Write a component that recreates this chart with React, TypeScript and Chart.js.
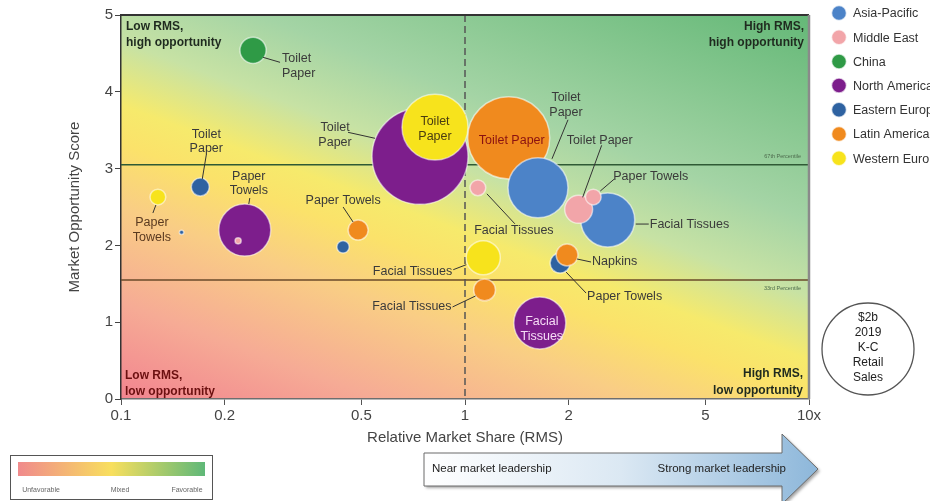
import React, { useEffect, useRef } from 'react';
import { Chart, registerables } from 'chart.js';

Chart.register(...registerables);

const FONT = '"Liberation Sans", Arial, Helvetica, sans-serif';

// Regions in legend order, with their colours
const regions = ['Asia-Pacific', 'Middle East', 'China', 'North America', 'Eastern Europe', 'Latin America', 'Western Europe'];
const regionColors = ['#4c83c8', '#f2a5a9', '#2f9a46', '#7d1e8c', '#2e62a1', '#f08a1e', '#f7e31c'];
// stacking of the region layers (lower = drawn on top)
const regionStack = [2, 1, 6, 7, 5, 3, 4];

// One bubble per region / category market
const bubbleRegion = [
  'China', 'North America', 'Western Europe', 'Latin America', 'Asia-Pacific', 'Asia-Pacific', 'Middle East',
  'Middle East', 'Middle East', 'Western Europe', 'Latin America', 'Latin America', 'Eastern Europe', 'North America',
  'Eastern Europe', 'Western Europe', 'Eastern Europe', 'North America', 'Middle East', 'Latin America', 'Eastern Europe',
];
const bubbleCategory = [
  'Toilet Paper', 'Toilet Paper', 'Toilet Paper', 'Toilet Paper', 'Toilet Paper', 'Facial Tissues', 'Toilet Paper',
  'Paper Towels', 'Facial Tissues', 'Facial Tissues', 'Facial Tissues', 'Napkins', 'Paper Towels', 'Facial Tissues',
  'Toilet Paper', 'Paper Towels', 'Paper Towels', 'Paper Towels', 'Paper Towels', 'Paper Towels', 'Facial Tissues',
];
// relative market share (x, log)
const bubbleRMS = [0.242, 0.74, 0.818, 1.34, 1.63, 2.6, 2.14, 2.36, 1.09, 1.13, 1.14, 1.98, 1.89, 1.65, 0.17, 0.128, 0.15, 0.229, 0.219, 0.489, 0.442];
// market opportunity score (y)
const bubbleScore = [4.54, 3.16, 3.54, 3.4, 2.75, 2.33, 2.47, 2.63, 2.75, 1.84, 1.42, 1.875, 1.77, 0.99, 2.76, 2.63, 2.17, 2.2, 2.06, 2.2, 1.98];
// 2019 retail sales, $M (bubble area)
const bubbleSalesM = [36, 485, 229, 354, 189, 153, 41, 13, 13, 61, 25, 25, 21, 142, 17, 13, 1, 142, 2, 21, 8];

const xTicks = [0.1, 0.2, 0.5, 1, 2, 5, 10];
const xTickLabels = ['0.1', '0.2', '0.5', '1', '2', '5', '10x'];

const percentileHigh = 3.05;
const percentileLow = 1.55;
const leadershipRMS = 1;
const totalNote = ['$2b', '2019', 'K-C', 'Retail', 'Sales'];
const scaleNames = ['Unfavorable', 'Mixed', 'Favorable'];
const arrowTexts = ['Near market leadership', 'Strong market leadership'];

const radiusOf = (sales: number) => 2.18 * Math.sqrt(sales);

// Callout placement for each labelled bubble (pixel offsets from the bubble centre)
type Callout = { i: number; dx: number; dy: number; wrap?: boolean; align?: CanvasTextAlign; color?: string; lh?: number; leader?: number[] };
const callouts: Callout[] = [
  { i: 0, dx: 29, dy: 8, wrap: true, align: 'left', leader: [10, 7, 27, 12] },
  { i: 1, dx: -85, dy: -29, wrap: true, leader: [-72, -24, -45, -18] },
  { i: 2, dx: 0, dy: -6, wrap: true, color: '#4a3c10' },
  { i: 3, dx: 3, dy: 3, color: '#8a1111' },
  { i: 4, dx: 28, dy: -90, wrap: true, leader: [30, -68, 14, -29] },
  { i: 5, dx: 42, dy: 4, align: 'left', leader: [28, 4, 41, 4] },
  { i: 6, dx: 21, dy: -69, leader: [23, -64, 4, -12] },
  { i: 7, dx: 20, dy: -20, align: 'left', leader: [21, -18, 7, -6] },
  { i: 8, dx: 36, dy: 43, leader: [9, 6, 37, 36] },
  { i: 9, dx: -31, dy: 14, align: 'right', leader: [-30, 12, -17, 7] },
  { i: 10, dx: -33, dy: 17, align: 'right', leader: [-32, 17, -9, 6] },
  { i: 11, dx: 25, dy: 7, align: 'left', leader: [10, 4, 24, 7] },
  { i: 12, dx: 27, dy: 33, align: 'left', leader: [6, 9, 26, 30] },
  { i: 13, dx: 2, dy: -1, wrap: true, color: '#f6dcf6' },
  { i: 14, dx: 6, dy: -52, wrap: true, lh: 14, leader: [6, -32, 2, -8] },
  { i: 15, dx: -6, dy: 26, wrap: true, color: '#5a3a20', leader: [-5, 16, -2, 8] },
  { i: 17, dx: 4, dy: -53, wrap: true, lh: 14, leader: [5, -32, 4, -26] },
  { i: 19, dx: -15, dy: -29, leader: [-15, -23, -5, -8] },
];

const backdropPlugin = {
  id: 'backdrop',
  beforeDraw(chart: any) {
    const { ctx, chartArea: a } = chart;
    const nx = 0.347, ny = -0.938;
    const L = nx * (a.right - a.left) + -ny * (a.bottom - a.top);
    const g = ctx.createLinearGradient(a.left, a.bottom, a.left + nx * L, a.bottom + ny * L);
    g.addColorStop(0, '#f2848f');
    g.addColorStop(0.15, '#f6ab95');
    g.addColorStop(0.3, '#f9cd85');
    g.addColorStop(0.4, '#fbe26a');
    g.addColorStop(0.46, '#f6ea6c');
    g.addColorStop(0.56, '#c7e2a4');
    g.addColorStop(0.68, '#a4d4a5');
    g.addColorStop(1, '#64b877');
    ctx.save();
    ctx.fillStyle = g;
    ctx.fillRect(a.left, a.top, a.right - a.left, a.bottom - a.top);
    ctx.restore();
  },
  beforeDatasetsDraw(chart: any) {
    const { ctx, chartArea: a, scales } = chart;
    const yH = scales.y.getPixelForValue(percentileHigh);
    const yL = scales.y.getPixelForValue(percentileLow);
    const xl = scales.x.getPixelForValue(leadershipRMS);
    ctx.save();
    ctx.lineWidth = 1.6;
    ctx.strokeStyle = '#2f5a35';
    ctx.beginPath(); ctx.moveTo(a.left, yH); ctx.lineTo(a.right, yH); ctx.stroke();
    ctx.strokeStyle = '#6a4a2a';
    ctx.beginPath(); ctx.moveTo(a.left, yL); ctx.lineTo(a.right, yL); ctx.stroke();
    ctx.strokeStyle = '#555';
    ctx.lineWidth = 1.5;
    ctx.setLineDash([7, 4]);
    ctx.beginPath(); ctx.moveTo(xl, a.top); ctx.lineTo(xl, a.bottom); ctx.stroke();
    ctx.setLineDash([]);
    ctx.font = `5.5px ${FONT}`;
    ctx.fillStyle = '#4d6b4d';
    ctx.textAlign = 'right';
    ctx.textBaseline = 'middle';
    ctx.fillText('67th Percentile', a.right - 8, yH - 8);
    ctx.fillText('33rd Percentile', a.right - 8, yL + 9);
    ctx.restore();
  },
  afterDatasetsDraw(chart: any) {
    const { ctx, chartArea: a, scales } = chart;
    ctx.save();
    // frame
    ctx.strokeStyle = '#333';
    ctx.lineWidth = 2;
    ctx.beginPath(); ctx.moveTo(a.left, a.top); ctx.lineTo(a.right, a.top); ctx.stroke();
    ctx.strokeStyle = '#8a8a8a';
    ctx.lineWidth = 2.5;
    ctx.beginPath(); ctx.moveTo(a.right, a.top); ctx.lineTo(a.right, a.bottom); ctx.stroke();

    // callouts
    ctx.textBaseline = 'middle';
    ctx.font = `12.5px ${FONT}`;
    callouts.forEach((c) => {
      const cx = scales.x.getPixelForValue(bubbleRMS[c.i]);
      const cy = scales.y.getPixelForValue(bubbleScore[c.i]);
      if (c.leader) {
        ctx.strokeStyle = '#333';
        ctx.lineWidth = 1;
        ctx.beginPath();
        ctx.moveTo(cx + c.leader[0], cy + c.leader[1]);
        ctx.lineTo(cx + c.leader[2], cy + c.leader[3]);
        ctx.stroke();
      }
      const text = bubbleCategory[c.i];
      const lines = c.wrap ? text.split(' ') : [text];
      ctx.fillStyle = c.color || '#3a3a3a';
      ctx.textAlign = c.align || 'center';
      const lh = c.lh || 15;
      lines.forEach((ln, k) => ctx.fillText(ln, cx + c.dx, cy + c.dy + k * lh));
    });

    // quadrant captions
    ctx.font = `bold 12px ${FONT}`;
    ctx.fillStyle = '#1f2a1f';
    ctx.textAlign = 'left';
    ctx.fillText('Low RMS,', a.left + 5, a.top + 12);
    ctx.fillText('high opportunity', a.left + 5, a.top + 28);
    ctx.textAlign = 'right';
    ctx.fillText('High RMS,', a.right - 5, a.top + 12);
    ctx.fillText('high opportunity', a.right - 5, a.top + 28);
    ctx.fillText('High RMS,', a.right - 6, a.bottom - 25);
    ctx.fillText('low opportunity', a.right - 6, a.bottom - 8);
    ctx.fillStyle = '#6b1010';
    ctx.textAlign = 'left';
    ctx.fillText('Low RMS,', a.left + 4, a.bottom - 23);
    ctx.fillText('low opportunity', a.left + 4, a.bottom - 7);
    ctx.restore();
  },
  afterDraw(chart: any) {
    const { ctx } = chart;
    ctx.save();
    // region legend
    ctx.textBaseline = 'middle';
    ctx.textAlign = 'left';
    ctx.font = `12.5px ${FONT}`;
    regions.forEach((name, i) => {
      const cy = 13 + i * 24.2;
      ctx.beginPath();
      ctx.arc(839, cy, 7.5, 0, Math.PI * 2);
      ctx.fillStyle = regionColors[i];
      ctx.fill();
      ctx.strokeStyle = 'rgba(255,255,255,0.7)';
      ctx.lineWidth = 1.5;
      ctx.stroke();
      ctx.fillStyle = '#333';
      ctx.fillText(name, 853, cy + 1);
    });

    // total sales note
    ctx.beginPath();
    ctx.ellipse(868, 349, 46, 46, 0, 0, Math.PI * 2);
    ctx.strokeStyle = '#555';
    ctx.lineWidth = 1.3;
    ctx.stroke();
    ctx.fillStyle = '#222';
    ctx.textAlign = 'center';
    ctx.font = `12px ${FONT}`;
    totalNote.forEach((t, k) => ctx.fillText(t, 868, 318 + k * 15));

    // favourability scale
    ctx.strokeStyle = '#555';
    ctx.lineWidth = 1;
    ctx.strokeRect(10.5, 455.5, 202, 44);
    const sg = ctx.createLinearGradient(18, 0, 205, 0);
    sg.addColorStop(0, '#f08a8c');
    sg.addColorStop(0.5, '#f8df5e');
    sg.addColorStop(1, '#5fb878');
    ctx.fillStyle = sg;
    ctx.fillRect(18, 462, 187, 14);
    ctx.fillStyle = '#666';
    ctx.font = `7px ${FONT}`;
    ctx.fillText(scaleNames[0], 41, 490);
    ctx.fillText(scaleNames[1], 120, 490);
    ctx.fillText(scaleNames[2], 187, 490);

    // leadership arrow
    ctx.save();
    ctx.shadowColor = 'rgba(0,0,0,0.35)';
    ctx.shadowBlur = 3;
    ctx.shadowOffsetX = 2;
    ctx.shadowOffsetY = 2;
    ctx.beginPath();
    ctx.moveTo(424, 453);
    ctx.lineTo(782, 453);
    ctx.lineTo(782, 434);
    ctx.lineTo(818, 469);
    ctx.lineTo(782, 504);
    ctx.lineTo(782, 486);
    ctx.lineTo(424, 486);
    ctx.closePath();
    const ag = ctx.createLinearGradient(424, 0, 818, 0);
    ag.addColorStop(0, '#ffffff');
    ag.addColorStop(0.5, '#dbe8f3');
    ag.addColorStop(1, '#8db7da');
    ctx.fillStyle = ag;
    ctx.fill();
    ctx.restore();
    ctx.strokeStyle = '#6b6b6b';
    ctx.lineWidth = 1;
    ctx.stroke();
    ctx.fillStyle = '#222';
    ctx.font = `11.5px ${FONT}`;
    ctx.textAlign = 'left';
    ctx.fillText(arrowTexts[0], 432, 469);
    ctx.textAlign = 'right';
    ctx.fillText(arrowTexts[1], 786, 469);
    ctx.restore();
  },
};

export default function App() {
  const ref = useRef<HTMLCanvasElement | null>(null);

  useEffect(() => {
    if (!ref.current) return;
    const datasets = regions.map((name, ri) => ({
      label: name,
      order: regionStack[ri],
      data: bubbleRMS
        .map((x, i) => ({ x, y: bubbleScore[i], r: radiusOf(bubbleSalesM[i]), region: bubbleRegion[i] }))
        .filter((p) => p.region === name),
      backgroundColor: regionColors[ri],
      borderColor: 'rgba(255,255,255,0.55)',
      borderWidth: 1.5,
    }));

    const tickFont = { size: 15, family: FONT };
    const chart = new Chart(ref.current, {
      type: 'bubble',
      data: { datasets },
      plugins: [backdropPlugin],
      options: {
        responsive: false,
        animation: false,
        devicePixelRatio: 1,
        events: [],
        layout: { autoPadding: false, padding: { left: 62, right: 121, top: 15, bottom: 50 } },
        plugins: { legend: { display: false }, tooltip: { enabled: false } },
        scales: {
          x: {
            type: 'logarithmic',
            min: 0.1,
            max: 10,
            afterBuildTicks: (s: any) => { s.ticks = xTicks.map((v) => ({ value: v })); },
            afterFit: (s: any) => { s.height = 52; },
            ticks: { callback: (_v: any, i: number) => xTickLabels[i], font: tickFont, color: '#444', padding: 2, maxRotation: 0, autoSkip: false },
            grid: { display: true, drawOnChartArea: false, drawTicks: true, tickLength: 6, color: '#555' },
            border: { display: true, color: '#6e6e6e', width: 1.5 },
            title: { display: true, text: 'Relative Market Share (RMS)', font: { size: 15, family: FONT }, color: '#444', padding: { top: 4, bottom: 4 } },
          },
          y: {
            min: 0,
            max: 5,
            afterFit: (s: any) => { s.width = 59; },
            ticks: { stepSize: 1, font: tickFont, color: '#444', padding: 2 },
            grid: { display: true, drawOnChartArea: false, drawTicks: true, tickLength: 6, color: '#444' },
            border: { display: true, color: '#333', width: 1.5 },
            title: { display: true, text: 'Market Opportunity Score', font: { size: 15, family: FONT }, color: '#444', padding: { top: 4, bottom: 4 } },
          },
        },
      } as any,
    });
    return () => chart.destroy();
  }, []);

  return (
    <div style={{ position: 'absolute', left: 0, top: 0, width: 930, height: 501, background: '#fff' }}>
      <canvas ref={ref} width={930} height={501} style={{ display: 'block' }} />
    </div>
  );
}
